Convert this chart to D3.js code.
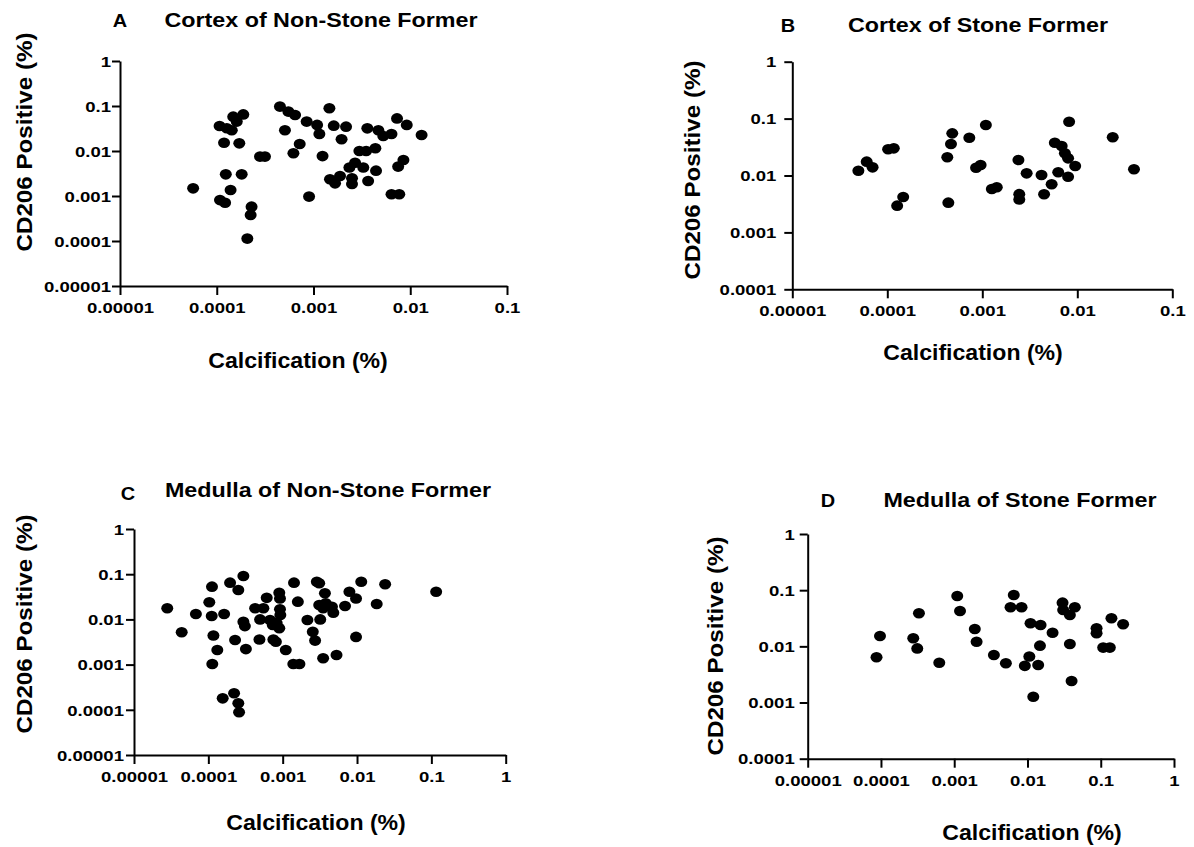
<!DOCTYPE html>
<html><head><meta charset="utf-8">
<script src="https://cdn.jsdelivr.net/npm/d3@7"></script>
<style>
body{margin:0;background:#fff;}
svg text{font-family:"Liberation Sans",Arial,sans-serif;font-weight:bold;fill:#000;}
</style></head><body>
<svg id="chart" width="1194" height="847"></svg>
<script>
// ---- tick values / labels ----
const tickValues = [1e-5, 1e-4, 1e-3, 1e-2, 1e-1, 1];
const tickLabels = ["0.00001", "0.0001", "0.001", "0.01", "0.1", "1"];

// ---- panel titles ----
const panelLetters = ["A", "B", "C", "D"];
const panelTitles = ["Cortex of Non-Stone Former", "Cortex of Stone Former", "Medulla of Non-Stone Former", "Medulla of Stone Former"];
const xAxisTitle = "Calcification (%)";
const yAxisTitle = "CD206 Positive (%)";

// ---- A: Cortex of Non-Stone Former ----
const cortexNonStoneCalc = [5.7e-5,1.07e-4,1.27e-4,1.43e-4,1.48e-4,1.61e-4,1.88e-4,1.19e-4,1.71e-4,1.24e-4,1.81e-4,1.39e-4,1.08e-4,1.22e-4,2.29e-4,2.24e-4,2.07e-4,2.8e-4,3.15e-4,4.5e-4,5.5e-4,6.45e-4,5.07e-4,6.2e-4,8.5e-4,1.09e-3,1.15e-3,1.46e-3,1.62e-3,2.17e-3,1.95e-3,7.2e-4,1.24e-3,3.6e-3,4.68e-3,5.26e-3,6.4e-3,7.3e-3,9.2e-3,0.0131,2.98e-3,3.5e-3,4.36e-3,2.69e-3,2.35e-3,3.27e-3,4.43e-3,1.88e-3,1.48e-3,1.67e-3,2.5e-3,2.5e-3,3.67e-3,8.5e-3,7.5e-3,6.4e-3,7.7e-3,9.0e-4];
const cortexNonStoneCD206 = [0.00148,0.036,0.032,0.029,0.058,0.045,0.065,0.0153,0.0148,0.00303,0.00303,0.00136,0.00081,0.00071,0.00058,0.00038,0.000113,0.0075,0.0075,0.097,0.075,0.063,0.029,0.0089,0.045,0.038,0.024,0.089,0.0366,0.0348,0.0182,0.0143,0.0077,0.0319,0.029,0.0216,0.0239,0.053,0.038,0.0227,0.01,0.01,0.0115,0.0055,0.0043,0.0043,0.00366,0.00278,0.00235,0.00191,0.00247,0.00185,0.00216,0.0063,0.0045,0.00109,0.00109,0.00097];

// ---- B: Cortex of Stone Former ----
const cortexStoneCalc = [4.96e-5,6.07e-5,7.0e-5,1.02e-4,1.17e-4,1.27e-4,1.47e-4,4.28e-4,4.39e-4,4.83e-4,4.68e-4,7.3e-4,1.09e-3,8.6e-4,9.6e-4,1.26e-3,1.42e-3,2.4e-3,2.45e-3,2.45e-3,2.93e-3,4.2e-3,4.47e-3,5.37e-3,6.3e-3,5.8e-3,6.85e-3,7.4e-3,8.0e-3,8.0e-3,9.5e-3,8.2e-3,0.0236,0.0395];
const cortexStoneCD206 = [0.0121,0.0175,0.0139,0.029,0.030,0.00295,0.0042,0.0209,0.00333,0.055,0.0358,0.046,0.077,0.0137,0.0153,0.0058,0.0062,0.0187,0.0047,0.0038,0.0109,0.0102,0.00467,0.0070,0.0114,0.0377,0.033,0.0245,0.020,0.0095,0.0147,0.088,0.047,0.0129];

// ---- C: Medulla of Non-Stone Former ----
const medullaNonStoneCalc = [2.8e-5,4.38e-5,6.8e-5,1.03e-4,1.12e-4,1.11e-4,1.17e-4,1.32e-4,1.13e-4,1.63e-4,1.96e-4,2.53e-4,2.96e-4,2.29e-4,2.96e-4,3.1e-4,3.2e-4,1.56e-4,2.22e-4,2.53e-4,2.59e-4,4.26e-4,4.97e-4,4.87e-4,5.5e-4,6.1e-4,6.76e-4,7.35e-4,8.3e-4,7.5e-4,8.1e-4,9.0e-4,9.2e-4,9.2e-4,9.3e-4,9.0e-4,1.1e-3,1.42e-3,1.6e-3,1.39e-3,1.68e-3,2.15e-3,2.54e-3,2.73e-3,2.88e-3,3.1e-3,3.1e-3,3.2e-3,3.7e-3,3.5e-3,3.8e-3,3.5e-3,4.6e-3,4.8e-3,5.3e-3,6.9e-3,7.9e-3,9.7e-3,9.7e-3,0.0114,0.0184,0.0239,0.116];
const medullaNonStoneCD206 = [0.0176,0.0052,0.0132,0.0239,0.053,0.0119,0.0044,0.0021,0.00103,0.0132,0.065,0.0447,0.091,0.0035,0.0089,0.0071,0.0022,0.000179,0.000232,0.000139,0.000088,0.0176,0.01,0.0036,0.0176,0.030,0.0097,0.0075,0.0083,0.0036,0.0032,0.039,0.029,0.0167,0.0125,0.0064,0.0021,0.065,0.0247,0.00103,0.00103,0.0097,0.0053,0.0034,0.068,0.063,0.0208,0.010,0.0378,0.00138,0.0227,0.0176,0.019,0.014,0.00163,0.0198,0.041,0.029,0.0041,0.068,0.0219,0.06,0.041];

// ---- D: Medulla of Stone Former ----
const medullaStoneCalc = [8.7e-5,9.7e-5,2.76e-4,3.13e-4,3.3e-4,6.25e-4,1.1e-3,1.2e-3,1.91e-3,2.02e-3,3.48e-3,5.07e-3,6.5e-3,5.87e-3,8.3e-3,9.2e-3,0.0106,0.011,0.0151,0.0148,0.014,0.012,0.022,0.0301,0.0307,0.0379,0.0443,0.0379,0.04,0.0877,0.0877,0.108,0.133,0.14,0.202];
const medullaStoneCD206 = [0.0064,0.0153,0.0139,0.0092,0.0388,0.0051,0.0788,0.0427,0.0204,0.0121,0.0070,0.005,0.082,0.0497,0.0497,0.0045,0.0066,0.0258,0.024,0.0103,0.00467,0.00127,0.0175,0.06,0.0445,0.0362,0.0497,0.011,0.00242,0.021,0.0171,0.0095,0.0095,0.0316,0.0247];

const datasets = [
  {calc: cortexNonStoneCalc, cd: cortexNonStoneCD206},
  {calc: cortexStoneCalc, cd: cortexStoneCD206},
  {calc: medullaNonStoneCalc, cd: medullaNonStoneCD206},
  {calc: medullaStoneCalc, cd: medullaStoneCD206}
];

// ---- layout (positions only) ----
const layout = [
  {x0:120, x1:507, xMax:0.1, yTop:61, yBot:286, yMin:1e-5, pad:1,
   letter:[120,27], title:[321,27], ylab:[24,142], xlab:[298,368]},
  {x0:792.3, x1:1172.3, xMax:0.1, yTop:61.7, yBot:289.3, yMin:1e-4, pad:8,
   letter:[788,32], title:[978,32], ylab:[692,170], xlab:[973,360]},
  {x0:134, x1:505.7, xMax:1, yTop:529, yBot:755, yMin:1e-5, pad:2,
   letter:[128,500], title:[328,497], ylab:[24,624], xlab:[316,830]},
  {x0:807.7, x1:1174, xMax:1, yTop:534, yBot:758.7, yMin:1e-4, pad:5,
   letter:[828,507], title:[1020,507], ylab:[715,646], xlab:[1032,840]}
];

const svg = d3.select("#chart");
const fmt = d => tickLabels[tickValues.indexOf(d)];
const TICK_SX = 1.28;

function addText(g, x, y, str, size, sx, rot) {
  return g.append("text")
    .attr("transform", `translate(${x},${y}) rotate(${rot||0}) scale(${sx},1)`)
    .attr("text-anchor", "middle")
    .attr("font-size", size)
    .text(str);
}

layout.forEach((L, i) => {
  const g = svg.append("g");
  const x = d3.scaleLog().domain([1e-5, L.xMax]).range([L.x0, L.x1]);
  const y = d3.scaleLog().domain([L.yMin, 1]).range([L.yBot, L.yTop]);
  const xt = tickValues.filter(v => v <= L.xMax * 1.0001);
  const yt = tickValues.filter(v => v >= L.yMin * 0.9999 && v <= 1.0001);

  const xa = g.append("g").attr("transform", `translate(0,${L.yBot})`)
    .call(d3.axisBottom(x).tickValues(xt).tickFormat(fmt).tickSize(9).tickSizeOuter(0));
  const ya = g.append("g").attr("transform", `translate(${L.x0},0)`)
    .call(d3.axisLeft(y).tickValues(yt).tickFormat(fmt).tickSize(8).tickSizeOuter(0));
  [xa, ya].forEach(a => a.attr("font-family", null).attr("font-size", null));

  xa.selectAll("text").attr("y", 22).attr("dy", "0.35em").attr("font-size", 14.5)
    .attr("transform", `scale(${TICK_SX},1)`).style("fill", "#000");
  ya.selectAll("text").attr("x", -(8 + L.pad) / TICK_SX).attr("dy", "0.36em").attr("font-size", 14.5)
    .attr("transform", `scale(${TICK_SX},1)`).style("fill", "#000");

  g.selectAll(".domain, .tick line").attr("stroke", "#000").attr("stroke-width", 2);

  const ds = datasets[i];
  g.append("g").selectAll("ellipse").data(d3.range(ds.calc.length)).join("ellipse")
    .attr("cx", j => x(ds.calc[j]))
    .attr("cy", j => y(ds.cd[j]))
    .attr("rx", 6).attr("ry", 5.3)
    .attr("fill", "#000");

  addText(g, L.letter[0], L.letter[1], panelLetters[i], 19, 1.05);
  addText(g, L.title[0], L.title[1], panelTitles[i], 21, 1.11);
  addText(g, L.xlab[0], L.xlab[1], xAxisTitle, 22, 1.05);
  addText(g, L.ylab[0], L.ylab[1], yAxisTitle, 22, 1.1, -90).attr("dy", "0.35em");
});
</script>
</body></html>
